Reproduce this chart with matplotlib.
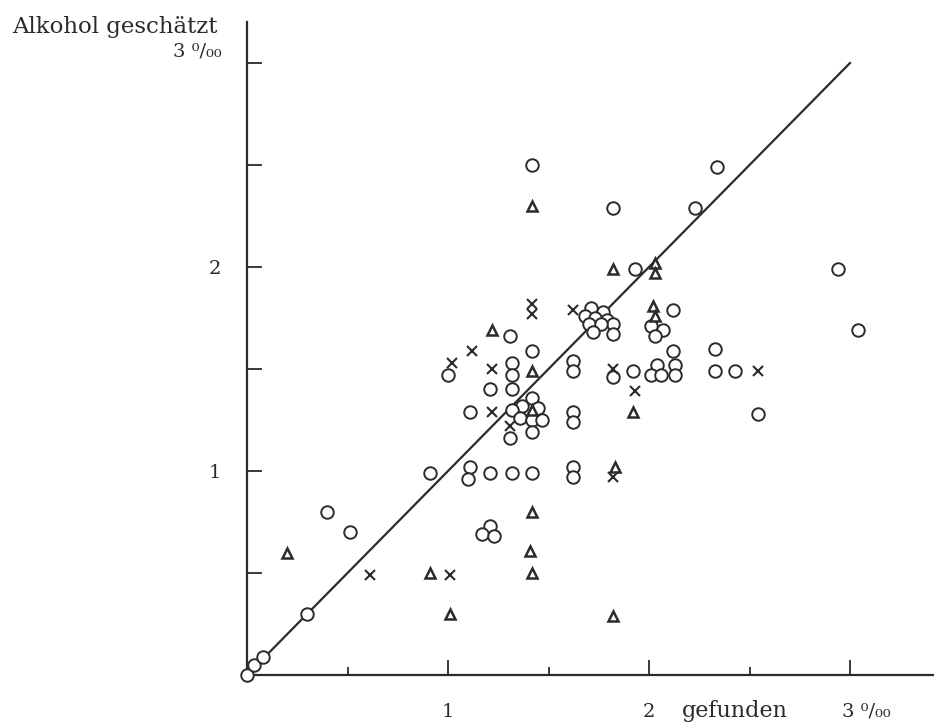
import matplotlib
matplotlib.use("Agg")
import matplotlib.pyplot as plt

# Alkohol: gefunden (x) gegen geschätzt (y), Promille
circle_x = [0.0, 0.035, 0.08, 0.30, 0.40, 0.51,
            0.91, 1.11, 1.10, 1.21, 1.32, 1.42, 1.62, 1.62,
            1.21, 1.17, 1.23,
            1.42, 2.34, 1.82, 2.23, 1.93, 2.94,
            1.71, 1.77, 1.68, 1.73, 1.79, 1.82, 1.70, 1.76, 1.72, 1.82,
            2.12, 2.01, 2.07, 2.03, 3.04, 2.12, 2.33,
            1.31, 1.42, 1.00, 1.32, 1.32, 1.62, 1.62, 1.82, 1.92,
            2.04, 2.01, 2.06, 2.13, 2.13, 2.33, 2.43,
            1.21, 1.32, 1.11,
            1.42, 1.37, 1.32, 1.45, 1.36, 1.42, 1.47, 1.42, 1.31,
            1.62, 1.62, 2.54]
circle_y = [0.0, 0.05, 0.09, 0.30, 0.80, 0.70,
            0.99, 1.02, 0.96, 0.99, 0.99, 0.99, 1.02, 0.97,
            0.73, 0.69, 0.68,
            2.50, 2.49, 2.29, 2.29, 1.99, 1.99,
            1.80, 1.78, 1.76, 1.75, 1.74, 1.72, 1.72, 1.72, 1.68, 1.67,
            1.79, 1.71, 1.69, 1.66, 1.69, 1.59, 1.60,
            1.66, 1.59, 1.47, 1.53, 1.47, 1.54, 1.49, 1.46, 1.49,
            1.52, 1.47, 1.47, 1.52, 1.47, 1.49, 1.49,
            1.40, 1.40, 1.29,
            1.36, 1.32, 1.30, 1.31, 1.26, 1.25, 1.25, 1.19, 1.16,
            1.29, 1.24, 1.28]

tri_x = [0.20, 0.91, 1.01, 1.22, 1.42, 1.92, 1.42, 1.83, 1.42, 1.41,
         1.42, 1.82, 1.42, 1.82, 2.03, 2.03, 2.02, 2.03]
tri_y = [0.60, 0.50, 0.30, 1.69, 1.49, 1.29, 1.30, 1.02, 0.80, 0.61,
         0.50, 0.29, 2.30, 1.99, 2.02, 1.97, 1.81, 1.76]

cross_x = [0.61, 1.01, 1.42, 1.42, 1.62, 1.12, 1.02, 1.22, 1.82, 1.93,
           1.22, 1.31, 1.82, 2.54]
cross_y = [0.49, 0.49, 1.82, 1.77, 1.79, 1.59, 1.53, 1.50, 1.50, 1.39,
           1.29, 1.22, 0.97, 1.49]

ideal = [0, 3]

serif = ['DejaVu Serif']
ink = '#2b2b2b'

fig = plt.figure(figsize=(9.34, 7.22), dpi=100)
W, H = 934, 722
ax = fig.add_axes([247 / W, 47 / H, (W - 247) / W, (675 - 22) / H])
ax.set_xlim(0, (W - 247) / 201)
ax.set_ylim(0, (675 - 22) / 204)

ax.plot(ideal, ideal, color=ink, lw=1.6, zorder=2)
ax.plot(circle_x, circle_y, 'o', ms=9, mfc='white', mec=ink, mew=1.4,
        zorder=3, clip_on=False)
ax.plot(tri_x, tri_y, '^', ms=6.5, mfc='white', mec=ink, mew=1.8, zorder=4)
ax.plot(cross_x, cross_y, 'x', ms=6.5, color=ink, mew=1.5, zorder=4)

for s in ['top', 'right']:
    ax.spines[s].set_visible(False)
for s in ['left', 'bottom']:
    ax.spines[s].set_linewidth(1.6)
    ax.spines[s].set_color(ink)

ax.set_xticks([1, 2, 3])
ax.set_xticks([0.5, 1.5, 2.5], minor=True)
ax.set_xticklabels(['1', '2', ''])
ax.set_yticks([0.5, 1, 1.5, 2, 2.5, 3])
ax.set_yticklabels(['', '1', '', '2', '', ''])
ax.tick_params(axis='x', which='major', direction='in', length=11, width=1.3,
               color=ink, pad=20, labelsize=14)
ax.tick_params(axis='x', which='minor', direction='in', length=6, width=1.3,
               color=ink)
ax.tick_params(axis='y', direction='in', length=11, width=1.3, color=ink,
               pad=19, labelsize=14)
for lab in ax.get_xticklabels() + ax.get_yticklabels():
    lab.set_family(serif)
    lab.set_color(ink)

fig.text(12 / W, 1 - 27 / H, 'Alkohol geschätzt', family=serif, fontsize=16.5,
         color=ink, va='center', ha='left')
fig.text(222 / W, 1 - 52 / H, '3 ⁰/₀₀', family=serif, fontsize=14,
         color=ink, va='center', ha='right')
fig.text(735 / W, 1 - 711 / H, 'gefunden', family=serif, fontsize=16,
         color=ink, va='center', ha='center')
fig.text(842 / W, 1 - 711 / H, '3 ⁰/₀₀', family=serif, fontsize=14,
         color=ink, va='center', ha='left')

fig.savefig('out.png', dpi=100, facecolor='white')
